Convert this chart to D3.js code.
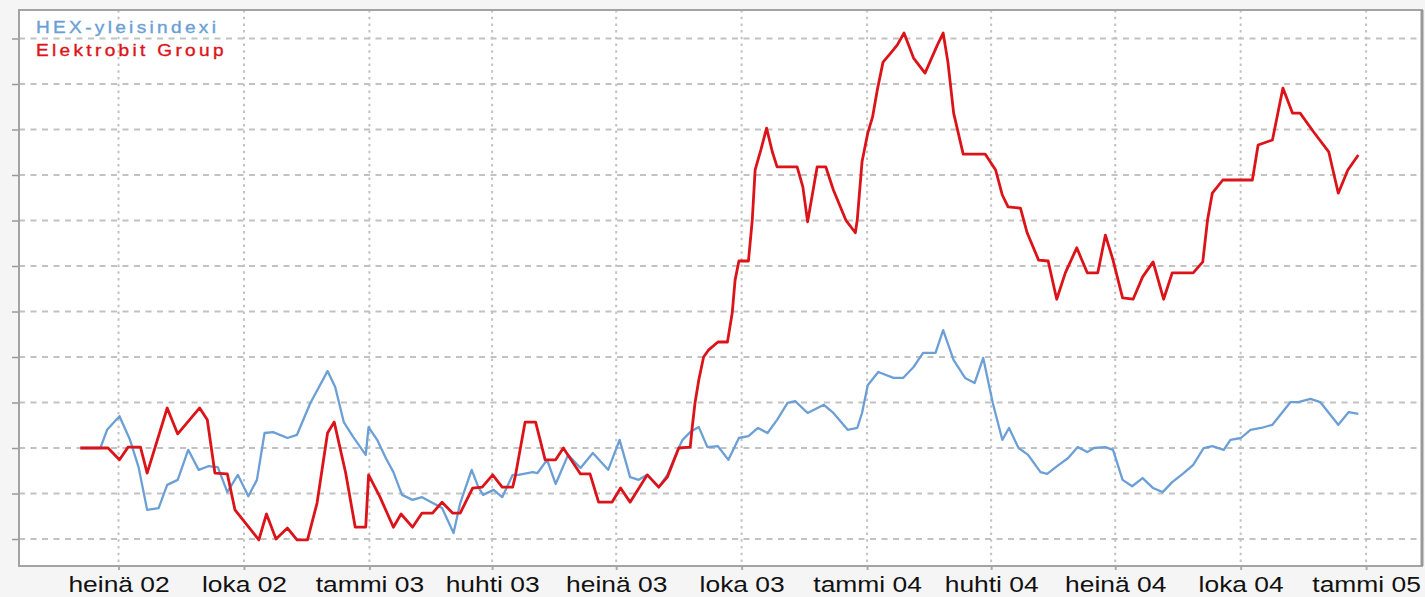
<!DOCTYPE html>
<html lang="fi">
<head>
  <title>Elektrobit Group / HEX-yleisindexi</title>
  <meta charset="UTF-8">
  <style>
    body {
      margin: 0;
      background: #f5f5f5;
    }
    svg {
      display: block;
    }
    text {
      font-family: "Liberation Sans", Arial, sans-serif;
    }
  </style>
  <script src="https://cdn.jsdelivr.net/npm/d3@7"></script>
</head>
<body>
<script>
  var startDate = new Date(2002, 5, 3);

  // [weeks since startDate, index value (start = 100)]
  var hexIndex = [
    [0, 100], [2.1, 100], [2.8, 104.0], [4.1, 107.0], [5.2, 101.8], [6.1, 95.8], [7.0, 86.4],
    [8.2, 86.8], [9.1, 91.9], [10.2, 93.0], [11.3, 99.6], [12.4, 95.2], [13.4, 96.0], [14.4, 95.8],
    [15.4, 90.3], [16.5, 94.1], [17.6, 89.4], [18.5, 93.0], [19.3, 103.3], [20.2, 103.5], [21.7, 102.2],
    [22.7, 102.9], [24.1, 109.9], [25.9, 116.9], [26.7, 113.4], [27.6, 105.7], [28.6, 102.4], [29.9, 98.5],
    [30.2, 104.6], [31.1, 101.8], [32.0, 97.8], [32.8, 94.7], [33.7, 89.7], [34.8, 88.6], [35.8, 89.2],
    [37.9, 86.8], [39.1, 81.3], [39.8, 87.9], [41.0, 95.2], [41.7, 91.4], [42.2, 89.7], [43.3, 90.8],
    [44.2, 89.2], [45.3, 94.1], [45.9, 94.1], [47.4, 94.7], [47.9, 94.5], [48.9, 97.4], [49.8, 92.1],
    [51.1, 98.5], [52.4, 95.6], [53.7, 98.9], [55.3, 95.2], [56.5, 101.8], [57.6, 93.6], [58.5, 93.0],
    [59.4, 94.1], [60.6, 91.4], [61.5, 94.1], [62.6, 99.6], [63.1, 101.8], [63.9, 103.5], [64.8, 104.6],
    [65.7, 100.2], [66.8, 100.4], [67.9, 97.4], [69.0, 102.2], [70.0, 102.6], [71.0, 104.4], [72.0, 103.3],
    [73.0, 106.2], [74.1, 109.9], [74.9, 110.3], [76.2, 107.7], [77.9, 109.5], [78.9, 107.7], [80.4, 104.0],
    [81.4, 104.4], [81.9, 107.7], [82.5, 113.8], [83.6, 116.7], [85.2, 115.4], [86.2, 115.4], [87.3, 117.8],
    [88.3, 120.9], [89.6, 120.9], [90.4, 125.9], [91.5, 119.3], [92.7, 115.4], [93.7, 114.3], [94.6, 119.8],
    [95.6, 109.9], [96.6, 101.8], [97.3, 104.4], [98.3, 100], [99.3, 98.5], [100.6, 94.7], [101.3, 94.3],
    [102.2, 95.8], [103.5, 97.8], [104.5, 100.2], [105.5, 99.1], [106.2, 100], [107.4, 100.2], [108.2, 99.6],
    [109.2, 93.0], [110.2, 91.6], [111.3, 93.4], [112.4, 91.2], [113.4, 90.3], [114.4, 92.5], [115.6, 94.5],
    [116.6, 96.3], [117.7, 100], [118.6, 100.4], [119.8, 99.6], [120.5, 101.8], [121.6, 102.2], [122.6, 104.0],
    [123.7, 104.4], [124.9, 105.1], [126.8, 110.1], [127.6, 110.1], [128.9, 110.8], [129.9, 110.1],
    [131.8, 105.1], [132.9, 107.9], [133.9, 107.5]
  ];

  var elektrobit = [
    [0, 100], [2.9, 100], [4.1, 97.4], [5.0, 100.2], [6.3, 100.2], [7.0, 94.5], [9.1, 108.8],
    [10.2, 103.1], [12.5, 108.8], [13.3, 106.2], [14.1, 94.5], [15.4, 94.3], [16.2, 86.4], [18.7, 79.8],
    [19.5, 85.5], [20.5, 80.0], [21.7, 82.4], [22.7, 79.8], [23.8, 79.8], [24.8, 87.9], [25.9, 103.3],
    [26.6, 105.7], [27.8, 94.5], [28.8, 82.6], [29.9, 82.6], [30.2, 94.1], [31.4, 89.2], [32.8, 82.6],
    [33.6, 85.5], [34.8, 82.6], [35.8, 85.7], [36.9, 85.7], [37.9, 88.1], [39.0, 85.7], [39.8, 85.7],
    [41.1, 91.2], [42.1, 91.4], [43.2, 94.1], [44.2, 91.4], [45.3, 91.4], [45.6, 94.1], [46.6, 105.7],
    [47.7, 105.7], [48.7, 97.4], [49.8, 97.4], [50.6, 100], [52.4, 94.3], [53.4, 94.3], [54.3, 88.1],
    [55.7, 88.1], [56.6, 91.2], [57.6, 88.1], [59.4, 94.1], [60.6, 91.4], [61.5, 93.6], [62.7, 100],
    [63.9, 100.2], [64.1, 104.4], [64.4, 109.9], [64.8, 115.0], [65.3, 120.0], [65.8, 121.5], [66.8, 123.3],
    [67.8, 123.3], [68.3, 129.7], [68.6, 136.9], [69.0, 141.1], [70.0, 141.1], [70.4, 150.1], [70.7, 161.1],
    [71.3, 165.5], [71.9, 170.3], [72.5, 165.1], [73.0, 161.8], [75.1, 161.8], [75.7, 157.4], [76.2, 149.7],
    [77.2, 161.8], [78.1, 161.8], [78.9, 156.7], [80.2, 150.1], [81.2, 147.3], [81.4, 150.1], [81.9, 162.9],
    [82.5, 169.2], [83.0, 172.7], [83.5, 178.7], [84.1, 184.8], [84.9, 186.8], [85.6, 188.6], [86.3, 191.2],
    [87.3, 185.7], [88.5, 182.4], [89.8, 188.6], [90.4, 191.2], [90.9, 184.8], [91.5, 173.6], [92.5, 164.6],
    [94.8, 164.6], [95.9, 161.1], [96.6, 155.6], [97.2, 153.0], [98.5, 152.7], [99.2, 147.3], [100.4, 141.3],
    [101.4, 141.1], [102.3, 132.7], [103.2, 138.5], [104.4, 144.0], [105.5, 138.5], [106.6, 138.5],
    [107.4, 146.8], [108.2, 141.3], [109.2, 133.0], [110.3, 132.7], [111.3, 137.6], [112.4, 140.9],
    [113.5, 132.7], [114.4, 138.5], [116.6, 138.5], [117.6, 140.9], [118.1, 150.1], [118.6, 156.0],
    [119.7, 158.9], [122.8, 158.9], [123.4, 166.6], [124.9, 167.7], [126.0, 179.1], [127.0, 173.6],
    [127.8, 173.6], [129.2, 169.5], [130.8, 165.1], [131.8, 156.0], [132.8, 161.1], [133.9, 164.4]
  ];

  var quarterLabels = ["heinä 02", "loka 02", "tammi 03", "huhti 03", "heinä 03", "loka 03",
    "tammi 04", "huhti 04", "heinä 04", "loka 04", "tammi 05"];
  var gridValues = [80, 90, 100, 110, 120, 130, 140, 150, 160, 170, 180, 190];

  var seriesNames = ["HEX-yleisindexi", "Elektrobit Group"];
  var seriesColors = ["#6b9fd6", "#dc1419"];

  var w = 1425;
  var h = 597;
  var frame = {left: 19, top: 10, right: 1422, bottom: 566};

  var quarterDates = d3.timeMonth.every(3).range(new Date(2002, 6, 1), new Date(2005, 0, 2));

  var x = d3.scaleTime()
    .domain([new Date(2002, 3, 19), new Date(2005, 1, 11)])
    .range([frame.left, frame.right]);

  var y = d3.scaleLinear()
    .domain([74.07, 196.26])
    .range([frame.bottom, frame.top]);

  function weekDate(wk) {
    return new Date(startDate.getTime() + wk * 7 * 864e5);
  }

  var svg = d3.select("body").append("svg")
    .attr("width", w)
    .attr("height", h);

  svg.append("rect")
    .attr("x", frame.left)
    .attr("y", frame.top)
    .attr("width", frame.right - frame.left)
    .attr("height", frame.bottom - frame.top)
    .attr("fill", "#fff");

  // grid
  svg.append("g").selectAll("line").data(gridValues)
    .enter().append("line")
    .attr("x1", frame.left)
    .attr("x2", frame.right)
    .attr("y1", function(d) { return y(d); })
    .attr("y2", function(d) { return y(d); })
    .attr("stroke", "#c2c2c2")
    .attr("stroke-width", 2)
    .attr("stroke-dasharray", "6,5.5");

  svg.append("g").selectAll("line").data(quarterDates)
    .enter().append("line")
    .attr("x1", function(d) { return x(d); })
    .attr("x2", function(d) { return x(d); })
    .attr("y1", frame.top)
    .attr("y2", frame.bottom)
    .attr("stroke", "#c2c2c2")
    .attr("stroke-width", 2)
    .attr("stroke-dasharray", "2.5,4.2");

  // axes
  var yAxis = svg.append("g")
    .attr("transform", "translate(" + frame.left + ",0)")
    .call(d3.axisLeft(y).tickValues(gridValues).tickSize(7).tickFormat(""));
  yAxis.select(".domain").remove();
  yAxis.selectAll("line").attr("stroke", "#999").attr("stroke-width", 1.5);

  var xAxis = svg.append("g")
    .attr("transform", "translate(0," + frame.bottom + ")")
    .call(d3.axisBottom(x).tickValues(quarterDates).tickSize(4)
      .tickFormat(function(d, i) { return quarterLabels[i]; }));
  xAxis.select(".domain").remove();
  xAxis.selectAll("line").attr("stroke", "#aaa").attr("stroke-width", 2);
  xAxis.selectAll("text")
    .attr("y", 26)
    .attr("dy", 0)
    .attr("transform", "scale(1.2,1)")
    .attr("font-size", 22)
    .attr("font-family", "\"Liberation Sans\", Arial, sans-serif")
    .attr("fill", "#111");

  // frame
  svg.append("rect")
    .attr("x", frame.left)
    .attr("y", frame.top)
    .attr("width", frame.right - frame.left)
    .attr("height", frame.bottom - frame.top)
    .attr("fill", "none")
    .attr("stroke", "#a3a3a3")
    .attr("stroke-width", 2);

  svg.append("line")
    .attr("x1", frame.right).attr("x2", frame.right)
    .attr("y1", frame.top).attr("y2", frame.bottom)
    .attr("stroke", "#999")
    .attr("stroke-width", 3);

  var line = d3.line()
    .x(function(d) { return x(weekDate(d[0])); })
    .y(function(d) { return y(d[1]); });

  svg.append("path")
    .datum(hexIndex)
    .attr("d", line)
    .attr("fill", "none")
    .attr("stroke", seriesColors[0])
    .attr("stroke-width", 2.3)
    .attr("stroke-linejoin", "round");

  svg.append("path")
    .datum(elektrobit)
    .attr("d", line)
    .attr("fill", "none")
    .attr("stroke", seriesColors[1])
    .attr("stroke-width", 2.8)
    .attr("stroke-linejoin", "round");

  // legend
  svg.append("g").selectAll("text").data(seriesNames)
    .enter().append("text")
    .attr("transform", function(d, i) { return "translate(36,33) translate(0," + (i * 22.5) + ") scale(1.19,1)"; })
    .attr("font-size", 16)
    .attr("letter-spacing", 2.8)
    .attr("fill", function(d, i) { return seriesColors[i]; })
    .attr("stroke", function(d, i) { return seriesColors[i]; })
    .attr("stroke-width", 0.35)
    .text(function(d) { return d; });
</script>
</body>
</html>
